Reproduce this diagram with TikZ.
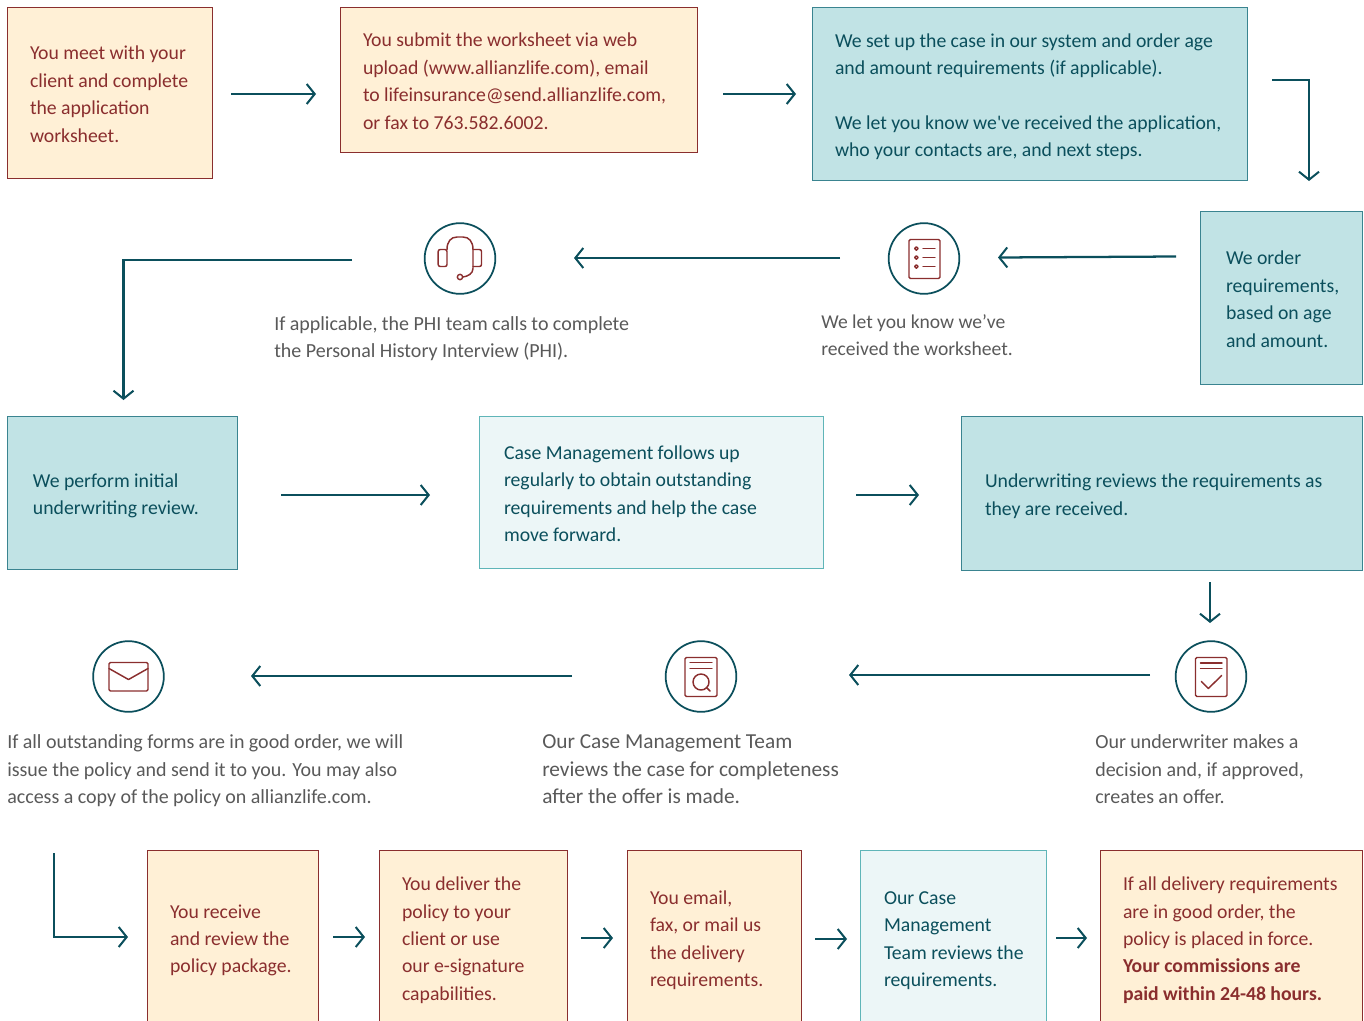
\documentclass[tikz,border=0pt]{standalone}
\usepackage{fontspec}
\setmainfont[WordSpace=0.98]{Carlito}
\newfontfamily\rawapos[WordSpace=0.98]{Carlito}
\usetikzlibrary{arrows.meta}
\definecolor{peach}{HTML}{FFF0D6}
\definecolor{wine}{HTML}{8A2E2E}
\definecolor{tealfill}{HTML}{C1E3E5}
\definecolor{tealline}{HTML}{3A8490}
\definecolor{palefill}{HTML}{ECF6F7}
\definecolor{paleline}{HTML}{5FB5B8}
\definecolor{deep}{HTML}{0B4F5C}
\definecolor{greytext}{HTML}{595959}
\tikzset{
  x=0.75pt,y=-0.75pt,
  txt/.style={font=\fontsize{14.8}{20.6}\selectfont,align=left,inner sep=0pt},
  boxbase/.style={txt,draw,line width=0.6pt},
  warm/.style={boxbase,fill=peach,draw=wine,text=wine},
  cool/.style={boxbase,fill=tealfill,draw=tealline,text=deep},
  pale/.style={boxbase,fill=palefill,draw=paleline,text=deep},
  plain/.style={txt,font=\fontsize{15}{20.6}\selectfont,text=greytext,anchor=west},
  ring/.style={circle,draw=deep,line width=1.3pt,minimum size=53pt,inner sep=0pt},
  flow/.style={draw=deep,line width=1.7pt,-{Straight Barb[length=6pt,width=15pt,line width=1.5pt]}},
  icon/.style={draw=wine,line width=1.1pt,line join=round,line cap=round},
}
\newlength{\tbindent}
\newcommand{\tb}[8]{%
  \pgfmathsetlength{\tbindent}{(#7-#3)*0.75}%
  \node[#1,minimum width={(#5-#3)*0.75pt},minimum height={(#6-#4)*0.75pt},text width={(#5-#3)*0.75pt},inner sep=0pt] (#2) at ({(#3+#5)/2},{(#4+#6)/2}) {\leftskip=\tbindent \spaceskip=0pt \xspaceskip=0pt \rule{0pt}{18.92pt}#8\strut\par};}
\begin{document}
\begin{tikzpicture}
\useasboundingbox (0,0) rectangle (1364,1021);
\clip (0,0) rectangle (1364,1021);
\tb{warm}{b1}{7}{7}{212}{178}{30}{You meet with your\\client and complete\\the application\\worksheet.}
\tb{warm}{b2}{340}{7}{697}{152}{363}{You submit the worksheet via web\\upload (www.allianzlife.com), email\\to lifeinsurance@send.allianzlife.com,\\or fax to 763.582.6002.}
\tb{cool}{b3}{812}{7}{1247}{180}{835}{We set up the case in our system and order age\\and amount requirements (if applicable).\\[20.6pt]We let you know we{\rawapos '}ve received the application,\\who your contacts are, and next steps.}
\tb{cool}{b4}{1200}{211}{1362}{384}{1226}{We order\\requirements,\\based on age\\and amount.}
\tb{cool}{b5}{7}{416}{237}{569}{33}{We perform initial\\underwriting review.}
\tb{pale}{b6}{479}{416}{823}{568}{504}{Case Management follows up\\regularly to obtain outstanding\\requirements and help the case\\move forward.}
\tb{cool}{b7}{961}{416}{1362}{570}{985}{Underwriting reviews the requirements as\\they are received.}
\tb{warm}{b8}{147}{850}{318}{1024}{170}{You receive\\and review the\\policy package.}
\tb{warm}{b9}{379}{850}{567}{1024}{402}{You deliver the\\policy to your\\client or use\\our e-signature\\capabilities.}
\tb{warm}{b10}{627}{850}{801}{1024}{650}{You email,\\fax, or mail us\\the delivery\\requirements.}
\tb{pale}{b11}{860}{850}{1046}{1024}{884}{Our Case\\Management\\Team reviews the\\requirements.}
\tb{warm}{b12}{1100}{850}{1362}{1024}{1123}{If all delivery requirements\\are in good order, the\\policy is placed in force.\\\textbf{Your commissions are}\\\textbf{paid within 24-48 hours.}}
% icon rings
\node[ring] (c1) at (460,258.5) {};
\node[ring] (c2) at (924,258.5) {};
\node[ring] (c3) at (128.5,676.5) {};
\node[ring] (c4) at (701,676.5) {};
\node[ring] (c5) at (1211,676.5) {};
% plain captions
\node[plain] (t1) at (274,338.5) {\strut If applicable, the PHI team calls to complete\\the Personal History Interview (PHI).\strut};
\node[plain,font=\fontsize{14.7}{20.6}\selectfont] (t2) at (821,336.5) {\strut We let you know we’ve\\received the worksheet.\strut};
\node[plain] (t3) at (7,770.5) {\strut If all outstanding forms are in good order, we will\\issue the policy and send it to you. You may also\\access a copy of the policy on allianzlife.com.\strut};
\node[plain,font=\fontsize{16}{20.6}\selectfont] (t4) at (542,770.5) {\strut Our Case Management Team\\reviews the case for completeness\\after the offer is made.\strut};
\node[plain] (t5) at (1095,770.5) {\strut Our underwriter makes a\\decision and, if approved,\\creates an offer.\strut};
% connector end points
\coordinate (a1s) at (231,94); \coordinate (a1e) at (316,94);
\coordinate (a2s) at (723,94); \coordinate (a2e) at (796,94);
\coordinate (a3s) at (1272,80); \coordinate (a3m) at (1309,80); \coordinate (a3e) at (1309,181);
\coordinate (a4s) at (1176,256.5); \coordinate (a4e) at (998,257.5);
\coordinate (a5s) at (840,258); \coordinate (a5e) at (574,258);
\coordinate (a6s) at (352,260); \coordinate (a6m) at (123.5,260); \coordinate (a6e) at (123.5,400);
\coordinate (a7s) at (281,495); \coordinate (a7e) at (430,495);
\coordinate (a8s) at (856,495); \coordinate (a8e) at (919,495);
\coordinate (a9s) at (1210,582); \coordinate (a9e) at (1210,623);
\coordinate (a10s) at (1150,675); \coordinate (a10e) at (849,675);
\coordinate (a11s) at (572,676); \coordinate (a11e) at (251,676);
\coordinate (a12s) at (54,853); \coordinate (a12m) at (54,937); \coordinate (a12e) at (128,937);
\coordinate (a13s) at (333,937); \coordinate (a13e) at (365,937);
\coordinate (a14s) at (581,938); \coordinate (a14e) at (613,938);
\coordinate (a15s) at (815,939); \coordinate (a15e) at (847,939);
\coordinate (a16s) at (1056,938); \coordinate (a16e) at (1087,938);
\draw[flow] (a1s) -- (a1e);
\draw[flow] (a2s) -- (a2e);
\draw[flow] (a3s) -- (a3m) -- (a3e);
\draw[flow] (a4s) -- (a4e);
\draw[flow] (a5s) -- (a5e);
\draw[flow] (a6s) -- (a6m) -- (a6e);
\draw[flow] (a7s) -- (a7e);
\draw[flow] (a8s) -- (a8e);
\draw[flow] (a9s) -- (a9e);
\draw[flow] (a10s) -- (a10e);
\draw[flow] (a11s) -- (a11e);
\draw[flow] (a12s) -- (a12m) -- (a12e);
\draw[flow] (a13s) -- (a13e);
\draw[flow] (a14s) -- (a14e);
\draw[flow] (a15s) -- (a15e);
\draw[flow] (a16s) -- (a16e);
% headset
\begin{scope}[shift={(c1)}]
\draw[icon] (-13,-9) .. controls (-13,-17) and (-9,-21.5) .. (-3,-21.5) -- (3,-21.5) .. controls (9,-21.5) and (13,-17) .. (13,-9) -- (13,10) .. controls (13,15) and (8,18) .. (2.7,18.5);
\draw[icon,rounded corners=1.5pt] (-13,-9) -- (-21.8,-9) -- (-21.8,8) -- (-13,8) -- cycle;
\draw[icon,rounded corners=1.5pt] (13,-9) -- (21.5,-9) -- (21.5,8) -- (13,8);
\draw[icon] (0,18.5) circle (2pt);
\end{scope}
% checklist
\begin{scope}[shift={(c2)}]
\draw[icon,rounded corners=1pt] (-15,-19) rectangle (16,20);
\foreach \yy in {-10,-1,8}{
  \draw[icon] (-7.7,\yy) circle (1.3pt);
  \draw[icon] (-1,\yy) -- (11,\yy);
}
\end{scope}
% envelope
\begin{scope}[shift={(c3)}]
\draw[icon,rounded corners=1pt] (-19.5,-14) rectangle (19.5,14.5);
\draw[icon] (-19.5,-8) -- (0,3) -- (19.5,-8);
\end{scope}
% document with magnifier
\begin{scope}[shift={(c4)}]
\draw[icon,rounded corners=1pt] (-16,-19) rectangle (16,20);
\draw[icon] (-11,-14) -- (11,-14);
\draw[icon] (-11,-8) -- (11,-8);
\draw[icon] (0,5.5) circle (6pt);
\draw[icon] (5.5,11) -- (9,14.5);
\end{scope}
% document with check
\begin{scope}[shift={(c5)}]
\draw[icon,rounded corners=1pt] (-15.5,-19) rectangle (16,20);
\draw[icon] (-10.5,-13.7) -- (11,-13.7);
\draw[icon] (-10.5,-8) -- (11,-8);
\draw[icon] (-9.7,5) -- (-2.7,12) -- (10.7,-1);
\end{scope}
\end{tikzpicture}
\end{document}
